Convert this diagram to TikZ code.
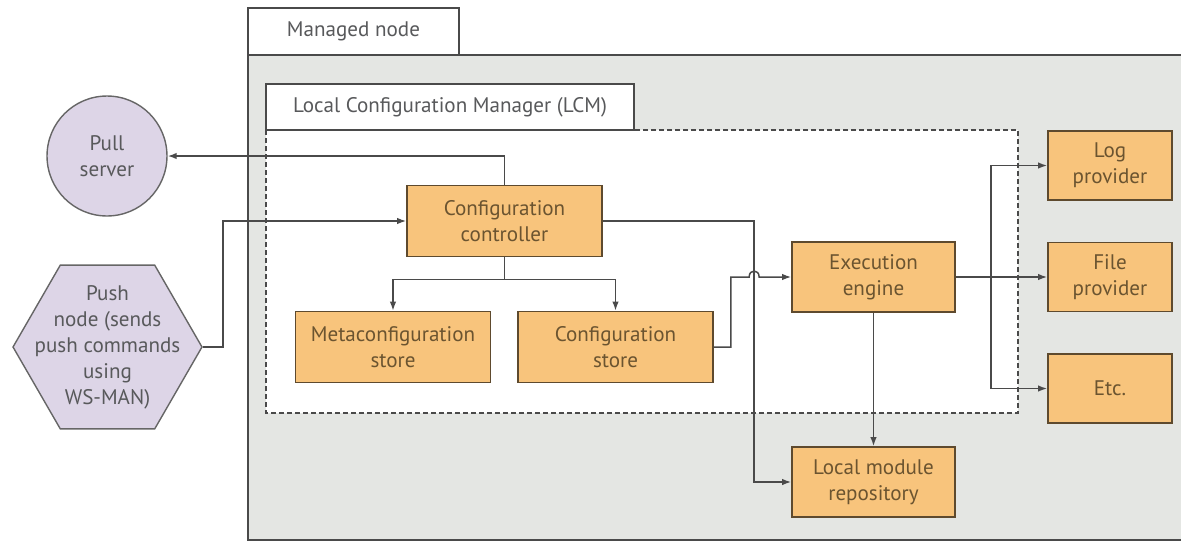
\documentclass[tikz,border=0pt]{standalone}
\usepackage{fontspec}
\setmainfont{PT Sans}
\usetikzlibrary{arrows.meta,shapes.geometric}
\definecolor{boxfill}{HTML}{F8C47C}
\definecolor{boxline}{HTML}{5E4A2E}
\definecolor{boxtext}{HTML}{6B5430}
\definecolor{areagray}{HTML}{E4E6E3}
\definecolor{lilac}{HTML}{DDD5E7}
\definecolor{labelgray}{HTML}{58595B}
\definecolor{linegray}{HTML}{4A4A4A}

\begin{document}
\begin{tikzpicture}[x=0.02cm, y=-0.02cm,
  every node/.style={font=\fontsize{12}{14.8}\selectfont},
  comp/.style={draw=boxline, line width=1pt, fill=boxfill, text=boxtext,
    align=center, minimum width=3.9cm, minimum height=1.42cm, inner sep=0pt},
  prov/.style={comp, minimum width=2.48cm, minimum height=1.38cm},
  tabbox/.style={draw=linegray, line width=0.8pt, fill=white, text=labelgray,
    minimum height=0.94cm, inner sep=0pt},
  peer/.style={draw=gray!80!black, line width=0.8pt, fill=lilac, text=labelgray,
    align=center, inner sep=0pt},
  wire/.style={draw=linegray, line width=0.85pt},
  arr/.style={wire, -{Latex[length=0.18cm,width=0.13cm]}}]
\useasboundingbox (0,0) rectangle (1181,542);
\clip (0,0) rectangle (1181,542);

% managed node
\draw[fill=areagray, draw=linegray, line width=0.8pt] (248,55) rectangle (1190,540);
\node[tabbox, minimum width=4.22cm] (mtab) at (353.5,31.5) {Managed node};

% LCM
\draw[fill=white, draw=linegray, line width=0.8pt, dash pattern=on 0.1cm off 0.06cm]
  (266,130) rectangle (1018,413);
\node[tabbox, minimum width=7.36cm, minimum height=0.92cm] (ltab) at (450,107)
  {Local Configuration Manager (LCM)};

\node[comp] (ctrl) at (504.5,221) {Configuration\\controller};
\node[comp] (meta) at (393,347) {Metaconfiguration\\store};
\node[comp] (cstore) at (615.5,347) {Configuration\\store};
\node[comp, minimum width=3.26cm, minimum height=1.4cm] (exec) at (873.5,277) {Execution\\engine};
\node[comp, minimum width=3.26cm, minimum height=1.4cm] (repo) at (873.5,482) {Local module\\repository};

\node[prov] (log) at (1110,165.5) {Log\\provider};
\node[prov] (file) at (1110,277) {File\\provider};
\node[prov] (etc) at (1110,388.5) {Etc.};

% outside
\node[peer, circle, minimum size=2.4cm] (pull) at (107,156) {Pull\\server};
\node[peer, regular polygon, regular polygon sides=6, minimum size=3.78cm,
  label={[text=labelgray, align=center]center:Push\\node (sends\\push commands\\using\\WS-MAN)}]
  (push) at (107.5,347) {};

\draw[arr] (ctrl.north) |- (pull.east);
\draw[arr] (push.east) -- ++(20,0) |- (ctrl.west);

\draw[wire] (ctrl.south) -- ++(0,22) coordinate (fork);
\draw[arr] (fork) -| (meta.north);
\draw[arr] (fork) -| (cstore.north);

\draw[arr] (ctrl.east) -| ([xshift=-0.74cm]repo.west) -- (repo.west);

\coordinate (hopL) at ([xshift=-0.84cm]exec.west);
\coordinate (hopR) at ([xshift=-0.64cm]exec.west);
\draw[arr] (cstore.east) -- ++(17,0) |- (hopL)
  .. controls +(0,-8) and +(0,-8) .. (hopR) -- (exec.west);

\draw[arr] (exec.east) -- (file.west);
\coordinate (tap) at ([xshift=0.7cm]exec.east);
\draw[arr] (tap) |- (log.west);
\draw[arr] (tap) |- (etc.west);
\draw[arr] (exec.south) -- (repo.north);
\end{tikzpicture}
\end{document}
